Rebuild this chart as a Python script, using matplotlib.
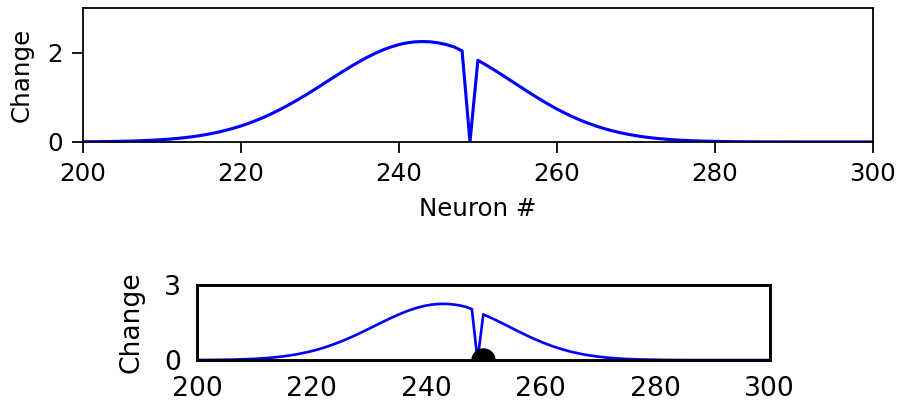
import matplotlib.pyplot as plt

# neuron index and change in activity
neurons = list(range(200, 301))
change = [
    0.004, 0.005, 0.007, 0.009, 0.011, 0.015, 0.019, 0.025, 0.032, 0.041,
    0.051, 0.064, 0.080, 0.099, 0.121, 0.148, 0.179, 0.215, 0.257, 0.305,
    0.358, 0.419, 0.487, 0.561, 0.643, 0.731, 0.825, 0.925, 1.030, 1.139,
    1.251, 1.365, 1.478, 1.590, 1.698, 1.801, 1.898, 1.985, 2.063, 2.128,
    2.181, 2.219, 2.242, 2.250, 2.242, 2.219, 2.181, 2.128, 2.040, 0.000,
    1.830, 1.728, 1.621, 1.509, 1.394, 1.278, 1.163, 1.050, 0.941, 0.837,
    0.739, 0.648, 0.563, 0.486, 0.417, 0.354, 0.299, 0.250, 0.208, 0.172,
    0.141, 0.114, 0.092, 0.074, 0.059, 0.046, 0.036, 0.028, 0.022, 0.017,
    0.013, 0.010, 0.007, 0.005, 0.004, 0.003, 0.002, 0.002, 0.001, 0.001,
    0.001, 0.000, 0.000, 0.000, 0.000, 0.000, 0.000, 0.000, 0.000, 0.000,
    0.000,
]
stim_neuron = [250]
stim_level = [0]

DPI = 160
fig = plt.figure(figsize=(897 / DPI, 401 / DPI), dpi=DPI)

# top panel
ax1 = fig.add_axes([0.0925, 0.646, 0.8805, 0.334])
ax1.plot(neurons, change, color="blue", lw=1.4)
ax1.set_xlim(200, 300)
ax1.set_ylim(0, 3)
ax1.set_yticks([0, 2])
ax1.set_xticks([200, 220, 240, 260, 280, 300])
ax1.tick_params(labelsize=11, length=5, width=0.8, pad=4)
for sp in ax1.spines.values():
    sp.set_linewidth(0.8)
ax1.set_xlabel("Neuron #", fontsize=11, labelpad=5)
ax1.set_ylabel("Change", fontsize=11, labelpad=6)

# bottom panel: smaller copy with the stimulated neuron marked
ax2 = fig.add_axes([0.2196, 0.102, 0.6384, 0.187])
ax2.plot(neurons, change, color="blue", lw=1.2)
ax2.plot(stim_neuron, stim_level, "o", color="black", ms=10)
ax2.set_xlim(200, 300)
ax2.set_ylim(0, 3)
ax2.set_yticks([0, 3])
ax2.set_xticks([200, 220, 240, 260, 280, 300])
ax2.tick_params(labelsize=12, length=0, pad=7)
for sp in ax2.spines.values():
    sp.set_linewidth(1.3)
ax2.set_ylabel("Change", fontsize=12, labelpad=9)

fig.savefig("out.png", dpi=DPI)
